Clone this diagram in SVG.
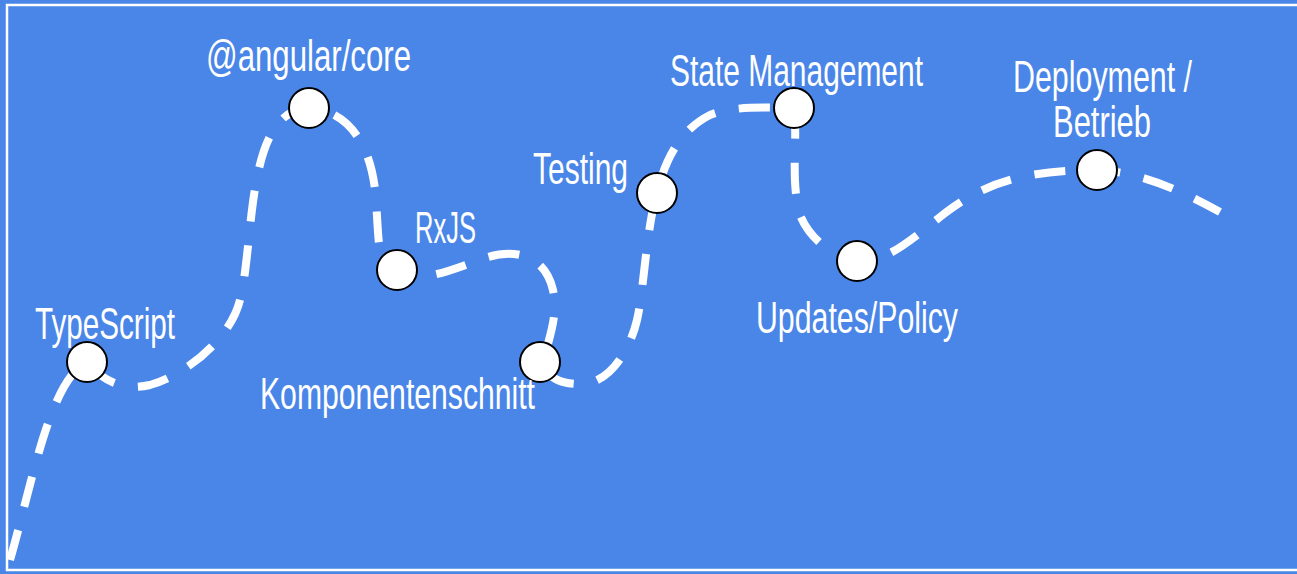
<svg xmlns="http://www.w3.org/2000/svg" width="1297" height="574" viewBox="0 0 1297 574">
<style>
.lbl{font-family:"Liberation Sans",Arial,sans-serif;font-size:44px;fill:#ffffff;}
.node{fill:#ffffff;stroke:#000000;stroke-width:2;}
.road{fill:none;stroke:#ffffff;stroke-width:8;stroke-dasharray:31 24;stroke-linecap:butt;}
</style>
<rect x="0" y="0" width="1297" height="574" fill="#4a86e8"/>
<rect x="7" y="5" width="1300" height="565" fill="none" stroke="#ffffff" stroke-width="2.5"/>
<g id="connectors">
<path class="road" d="M 10 560 C 33 480, 50 380, 87 362 C 100 378, 120 392, 150 385 C 185 375, 230 340, 240 300 C 255 240, 245 110, 309 108 C 345 110, 372 140, 376 200 C 379 245, 378 275, 397 270 C 420 285, 450 270, 485 258 C 515 248, 545 255, 553 290 C 558 315, 550 335, 545 355 C 540 375, 560 385, 582 384 C 610 383, 630 350, 637 320 C 644 290, 646 230, 657 193 C 665 160, 680 130, 710 115 C 735 105, 770 108, 794 108 C 798 140, 790 180, 800 215 C 810 240, 835 258, 857 261 C 885 262, 905 245, 940 217 C 975 190, 1010 170, 1097 170 C 1140 172, 1180 190, 1220 212"/>
</g>
<g id="typescript"><circle class="node" cx="87" cy="362" r="20"/><text class="lbl" x="35" y="339" textLength="140" lengthAdjust="spacingAndGlyphs">TypeScript</text></g>
<g id="angular-core"><circle class="node" cx="309" cy="108" r="20"/><text class="lbl" x="206" y="71" textLength="205" lengthAdjust="spacingAndGlyphs">@angular/core</text></g>
<g id="rxjs"><circle class="node" cx="397" cy="270" r="20"/><text class="lbl" x="415" y="243" textLength="61" lengthAdjust="spacingAndGlyphs">RxJS</text></g>
<g id="komponentenschnitt"><circle class="node" cx="540" cy="362" r="20"/><text class="lbl" x="260" y="409" textLength="275" lengthAdjust="spacingAndGlyphs">Komponentenschnitt</text></g>
<g id="testing"><circle class="node" cx="657" cy="193" r="20"/><text class="lbl" x="533" y="184" textLength="95" lengthAdjust="spacingAndGlyphs">Testing</text></g>
<g id="state-management"><circle class="node" cx="794" cy="108" r="20"/><text class="lbl" x="670" y="86" textLength="253" lengthAdjust="spacingAndGlyphs">State Management</text></g>
<g id="updates-policy"><circle class="node" cx="857" cy="261" r="20"/><text class="lbl" x="756" y="333" textLength="202" lengthAdjust="spacingAndGlyphs">Updates/Policy</text></g>
<g id="deployment"><circle class="node" cx="1097" cy="170" r="20"/><text class="lbl" x="1013" y="92" textLength="179" lengthAdjust="spacingAndGlyphs">Deployment /</text><text class="lbl" x="1053" y="137" textLength="98" lengthAdjust="spacingAndGlyphs">Betrieb</text></g>
</svg>
